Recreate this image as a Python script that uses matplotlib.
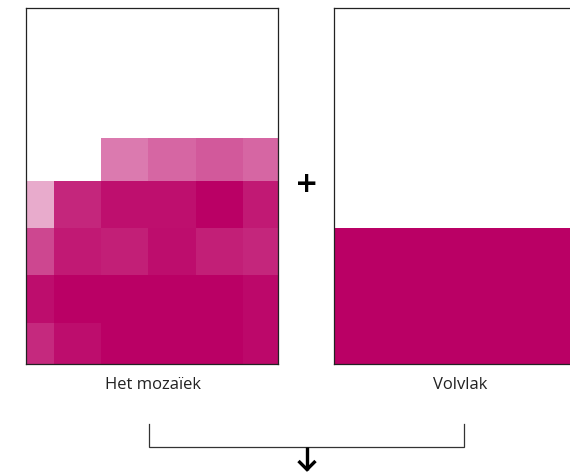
import matplotlib
matplotlib.use("Agg")
import matplotlib.pyplot as plt
import numpy as np

# ---- data ----
base_color = (186/255, 0/255, 101/255)
# mosaic intensities (rows bottom -> top, columns left -> right)
mosaic_rows = [
    [0.84, 0.95, 1.00, 1.00, 1.00, 0.97],
    [0.95, 1.00, 1.00, 1.00, 1.00, 0.97],
    [0.72, 0.90, 0.88, 0.95, 0.88, 0.85],
    [0.33, 0.85, 0.94, 0.94, 1.00, 0.90],
    [0.00, 0.00, 0.52, 0.60, 0.65, 0.60],
]
row_heights = [1.0, 1.0, 1.0, 1.0, 0.92]
volvlak_level = 3.0
labels = ["Het mozaïek", "Volvlak"]

W, H = 570, 472
fig = plt.figure(figsize=(W/100, H/100), dpi=100)

def px_axes(x0, y0, x1, y1):
    return fig.add_axes([x0/W, 1 - y1/H, (x1-x0)/W, (y1-y0)/H])

xlim = (0.404, 5.745)
ylim = (0.12, 7.673)

# overlay for annotations
ov = fig.add_axes([0, 0, 1, 1], zorder=0)
ov.set_xlim(0, W)
ov.set_ylim(H, 0)
ov.axis("off")

# left panel: mosaic
axL = px_axes(26, 8, 278, 364)
axL.set_zorder(1)
bottom = 0.0
cols = np.arange(len(mosaic_rows[0]))
for vals, h in zip(mosaic_rows, row_heights):
    colors = [(1 - v*(1-base_color[0]), 1 - v*(1-base_color[1]), 1 - v*(1-base_color[2])) for v in vals]
    axL.bar(cols + 0.5, h, width=1.0, bottom=bottom, color=colors,
            linewidth=0, antialiased=False)
    bottom += h
axL.set_xlim(*xlim)
axL.set_ylim(*ylim)

# right panel: solid fill
axR = px_axes(334, 8, 586, 364)
axR.set_zorder(1)
axR.bar([0.5], [volvlak_level], width=1.0, bottom=0, color=base_color, linewidth=0)
axR.set_xlim(0, 1)
axR.set_ylim(*ylim)

for ax in (axL, axR):
    ax.set_xticks([])
    ax.set_yticks([])
    for s in ax.spines.values():
        s.set_linewidth(0.9)
        s.set_color("#222222")

# labels
ov.text(153, 385, labels[0], ha="center", va="center", fontsize=12,
        family="Open Sans", color="#222222")
ov.text(460, 385, labels[1], ha="center", va="center", fontsize=12,
        family="Open Sans", color="#222222")

# plus sign
ov.text(306.5, 184, "+", ha="center", va="center", fontsize=20,
        fontweight="bold", family="DejaVu Sans", color="black")

# bracket
ov.plot([149, 149, 464, 464], [424, 447, 447, 424], color="#333333", lw=0.9,
        solid_joinstyle="miter")
ov.plot([307, 307], [447, 470], color="black", lw=2.4, solid_capstyle="butt")
ov.plot([298.5, 307, 315.5], [461, 469.5, 461], color="black", lw=2.4,
        solid_joinstyle="miter", solid_capstyle="butt")

fig.savefig("out.png", dpi=100)
